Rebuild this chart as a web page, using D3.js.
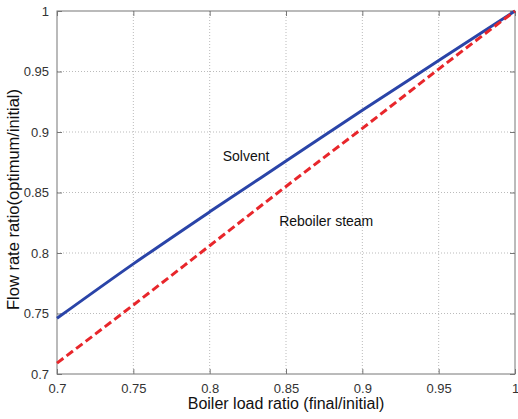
<!DOCTYPE html>
<meta charset="utf-8">
<script src="https://d3js.org/d3.v7.min.js"></script>
<style>
  body { margin: 0; background: #fff; }
  text { font-family: "Liberation Sans", Arial, sans-serif; }
</style>
<div id="chart"></div>
<script>
// data
var loadRatio = [0.7, 0.75, 0.8, 0.85, 0.9, 0.95, 1.0];
var solvent   = [0.746, 0.791, 0.834, 0.876, 0.918, 0.959, 1.0];
var steam     = [0.709, 0.757, 0.806, 0.855, 0.903, 0.952, 1.0];
var xTicks = [0.7, 0.75, 0.8, 0.85, 0.9, 0.95, 1];
var yTicks = [0.7, 0.75, 0.8, 0.85, 0.9, 0.95, 1];

var W = 518, H = 419;
var margin = {top: 11, right: 3, bottom: 45, left: 57};
var width = W - margin.left - margin.right,
    height = H - margin.top - margin.bottom;

var svg = d3.select("#chart").append("svg")
  .attr("width", W).attr("height", H)
  .append("g")
  .attr("transform", "translate(" + margin.left + "," + margin.top + ")");

var x = d3.scaleLinear().domain([0.7, 1]).range([0, width]);
var y = d3.scaleLinear().domain([0.7, 1]).range([height, 0]);
var fmt = function(d) { return d === 1 ? "1" : String(d); };

// grid
svg.append("g").selectAll("line").data(xTicks.slice(1, -1)).enter().append("line")
  .attr("x1", d => x(d)).attr("x2", d => x(d)).attr("y1", 0).attr("y2", height)
  .attr("stroke", "#bbb").attr("stroke-dasharray", "1,2");
svg.append("g").selectAll("line").data(yTicks.slice(1, -1)).enter().append("line")
  .attr("y1", d => y(d)).attr("y2", d => y(d)).attr("x1", 0).attr("x2", width)
  .attr("stroke", "#bbb").attr("stroke-dasharray", "1,2");

// axes, MATLAB style ticks pointing inward
function styleAxis(g) {
  g.select(".domain").remove();
  g.selectAll(".tick line").attr("stroke", "#777");
  g.selectAll(".tick text").attr("fill", "#333").style("font-size", "13px");
}
svg.append("g").attr("transform", "translate(0," + height + ")")
  .call(d3.axisBottom(x).tickValues(xTicks).tickFormat(fmt).tickSizeInner(-5).tickPadding(10))
  .call(styleAxis);
svg.append("g")
  .call(d3.axisLeft(y).tickValues(yTicks).tickFormat(fmt).tickSizeInner(-5).tickPadding(8))
  .call(styleAxis);
svg.append("g")
  .call(d3.axisTop(x).tickValues(xTicks).tickFormat("").tickSizeInner(-5))
  .call(styleAxis);
svg.append("g").attr("transform", "translate(" + width + ",0)")
  .call(d3.axisRight(y).tickValues(yTicks).tickFormat("").tickSizeInner(-5))
  .call(styleAxis);

svg.append("rect").attr("width", width).attr("height", height)
  .attr("fill", "none").attr("stroke", "#777").attr("stroke-width", 1);

// lines
var line = d3.line().x(d => x(d[0])).y(d => y(d[1])).curve(d3.curveMonotoneX);
svg.append("path").datum(d3.zip(loadRatio, solvent))
  .attr("d", line).attr("fill", "none")
  .attr("stroke", "#2a44a8").attr("stroke-width", 3);
svg.append("path").datum(d3.zip(loadRatio, steam))
  .attr("d", line).attr("fill", "none")
  .attr("stroke", "#e8262b").attr("stroke-width", 3)
  .attr("stroke-dasharray", "8,4");

// annotations
svg.append("text").attr("x", x(0.8085)).attr("y", y(0.8757))
  .style("font-size", "14px").attr("fill", "#111").text("Solvent");
svg.append("text").attr("x", x(0.8455)).attr("y", y(0.8222))
  .style("font-size", "14px").attr("fill", "#111").text("Reboiler steam");

// axis titles
svg.append("text").attr("x", width / 2).attr("y", height + 35)
  .attr("text-anchor", "middle").style("font-size", "16px").attr("fill", "#111")
  .text("Boiler load ratio (final/initial)");
svg.append("text")
  .attr("transform", "translate(" + (-38) + "," + (height / 2 + 7) + ") rotate(-90)")
  .attr("text-anchor", "middle").style("font-size", "16.5px").attr("fill", "#111")
  .text("Flow rate ratio(optimum/initial)");
</script>
